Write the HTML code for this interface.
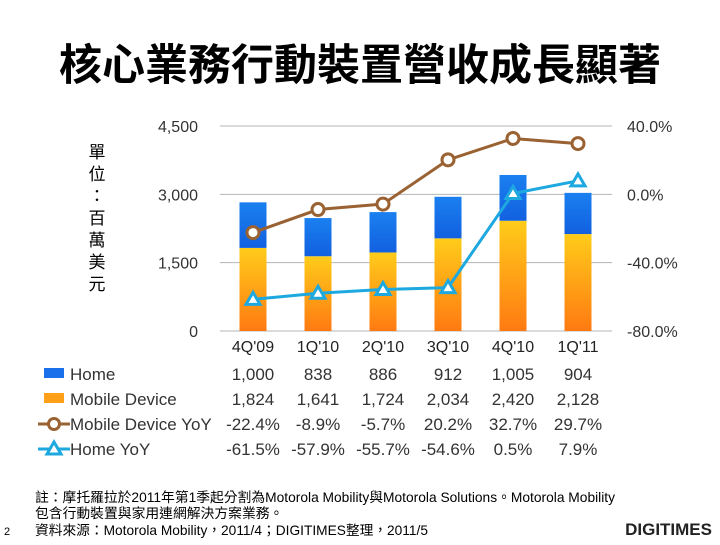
<!DOCTYPE html>
<html><head><meta charset="utf-8"><style>
body{margin:0;width:720px;height:540px;background:#fff;overflow:hidden;font-family:"Liberation Sans","Noto Sans CJK TC",sans-serif}
</style></head><body>
<svg width="720" height="540" xmlns="http://www.w3.org/2000/svg" font-family="Liberation Sans, Noto Sans CJK TC, sans-serif">
<defs>
<linearGradient id="gy" x1="0" y1="0" x2="0" y2="1"><stop offset="0" stop-color="#ffcc1a"/><stop offset="1" stop-color="#ff7a12"/></linearGradient>
<linearGradient id="gb" x1="0" y1="0" x2="0" y2="1"><stop offset="0" stop-color="#1a80f0"/><stop offset="1" stop-color="#1260e0"/></linearGradient>
</defs>
<text x="360" y="80" text-anchor="middle" font-size="43" font-weight="bold" font-family="Noto Sans CJK TC, sans-serif">核心業務行動裝置營收成長顯著</text>
<g font-size="17" font-family="Noto Sans CJK TC, sans-serif" text-anchor="middle">
<text x="97" y="158">單</text><text x="97" y="180">位</text><text x="97" y="202">：</text><text x="97" y="224">百</text><text x="97" y="246">萬</text><text x="97" y="268">美</text><text x="97" y="290">元</text>
</g>
<g id="grid"></g><g id="bars"></g><g id="lines"></g><g id="axes"></g><g id="table"></g>
<g font-size="13.8" font-family="Liberation Sans, Noto Sans CJK TC, sans-serif">
<text x="35" y="502" textLength="580" lengthAdjust="spacingAndGlyphs">註：摩托羅拉於2011年第1季起分割為Motorola Mobility與Motorola Solutions。Motorola Mobility</text>
<text x="35" y="518">包含行動裝置與家用連網解決方案業務。</text>
<text x="35" y="535" textLength="393" lengthAdjust="spacingAndGlyphs">資料來源：Motorola Mobility，2011/4；DIGITIMES整理，2011/5</text>
<text x="4" y="535" font-size="11">2</text>
</g>
<text x="712" y="535" text-anchor="end" font-size="17" font-weight="bold" fill="#222">DIGITIMES</text>
<script>
const categories=["4Q'09","1Q'10","2Q'10","3Q'10","4Q'10","1Q'11"];
const home=[1000,838,886,912,1005,904];
const mobile=[1824,1641,1724,2034,2420,2128];
const mobileYoY=[-22.4,-8.9,-5.7,20.2,32.7,29.7];
const homeYoY=[-61.5,-57.9,-55.7,-54.6,0.5,7.9];
const leftTicks=[0,1500,3000,4500];
const rightTicks=[-80,-40,0,40];
const NS="http://www.w3.org/2000/svg";
function yL(v){return 331-v*(205/4500);}
function yR(v){return 331-(v+80)*(205/120);}
function xC(i){return 253+i*65;}
function mk(tag,attrs,parent,txt){const e=document.createElementNS(NS,tag);for(const k in attrs)e.setAttribute(k,attrs[k]);if(txt!==undefined)e.textContent=txt;document.getElementById(parent).appendChild(e);return e;}
leftTicks.forEach((t,i)=>{
 const l=mk('line',{x1:220,x2:612,y1:yL(t),y2:yL(t),stroke:'#b4b4b4','stroke-width':1},'grid');
 
 
 const tx=mk('text',{x:198,y:yL(t)+6,'text-anchor':'end','font-size':16,fill:'#333'},'axes',t.toLocaleString('en-US'));
 
 
});
rightTicks.forEach(t=>{
 const tx=mk('text',{x:627,y:yR(t)+6,'font-size':16,fill:'#333'},'axes',t.toFixed(1)+'%');
 
 
});
categories.forEach((c,i)=>{
 const x=xC(i);
 const b1=mk('rect',{x:x-13.5,y:yL(mobile[i]),width:27,height:331-yL(mobile[i]),fill:'url(#gy)'},'bars');
 
 
 const b2=mk('rect',{x:x-13.5,y:yL(mobile[i]+home[i]),width:27,height:yL(mobile[i])-yL(mobile[i]+home[i]),fill:'url(#gb)'},'bars');
 
 
 const cl=mk('text',{x:x,y:352,'text-anchor':'middle','font-size':16,fill:'#222'},'axes',c);
 
 
});
const p1=mk('polyline',{points:mobileYoY.map((v,i)=>xC(i)+','+yR(v)).join(' '),fill:'none',stroke:'#9a6232','stroke-width':3},'lines');


const p2=mk('polyline',{points:homeYoY.map((v,i)=>xC(i)+','+yR(v)).join(' '),fill:'none',stroke:'#1ea8e0','stroke-width':3},'lines');


mobileYoY.forEach((v,i)=>{
 const c=mk('circle',{cx:xC(i),cy:yR(v),r:6,fill:'#fff',stroke:'#9a6232','stroke-width':3},'lines');
 
 
});
homeYoY.forEach((v,i)=>{
 const x=xC(i),y=yR(v);
 const t=mk('polygon',{points:`${x},${y-7} ${x-7},${y+5} ${x+7},${y+5}`,fill:'#fff',stroke:'#1ea8e0','stroke-width':3},'lines');
 
 
});
const rows=[
 {name:'Home',vals:home.map(v=>v.toLocaleString('en-US')),key:'rect',col:'#1a70ea'},
 {name:'Mobile Device',vals:mobile.map(v=>v.toLocaleString('en-US')),key:'rect',col:'#ffa018'},
 {name:'Mobile Device YoY',vals:mobileYoY.map(v=>v.toFixed(1)+'%'),key:'circle',col:'#9a6232'},
 {name:'Home YoY',vals:homeYoY.map(v=>v.toFixed(1)+'%'),key:'tri',col:'#1ea8e0'}];
rows.forEach((r,j)=>{
 const y=374+j*25;
 if(r.key==='rect'){const k=mk('rect',{x:44,y:y-6,width:20,height:10,fill:r.col},'table');}
 else{const l=mk('line',{x1:38,x2:70,y1:y,y2:y,stroke:r.col,'stroke-width':3},'table');
  if(r.key==='circle'){const c=mk('circle',{cx:54,cy:y,r:5.5,fill:'#fff',stroke:r.col,'stroke-width':3},'table');}
  else{const t=mk('polygon',{points:`54,${y-7} 47,${y+5} 61,${y+5}`,fill:'#fff',stroke:r.col,'stroke-width':3},'table');}}
 const n=mk('text',{x:70,y:y+6,'font-size':17,fill:'#333'},'table',r.name);
 
 
 r.vals.forEach((v,i)=>{
  const t=mk('text',{x:xC(i),y:y+6,'text-anchor':'middle','font-size':17,fill:'#333'},'table',v);
  
  
 });
});
</script>
</svg>
</body></html>
